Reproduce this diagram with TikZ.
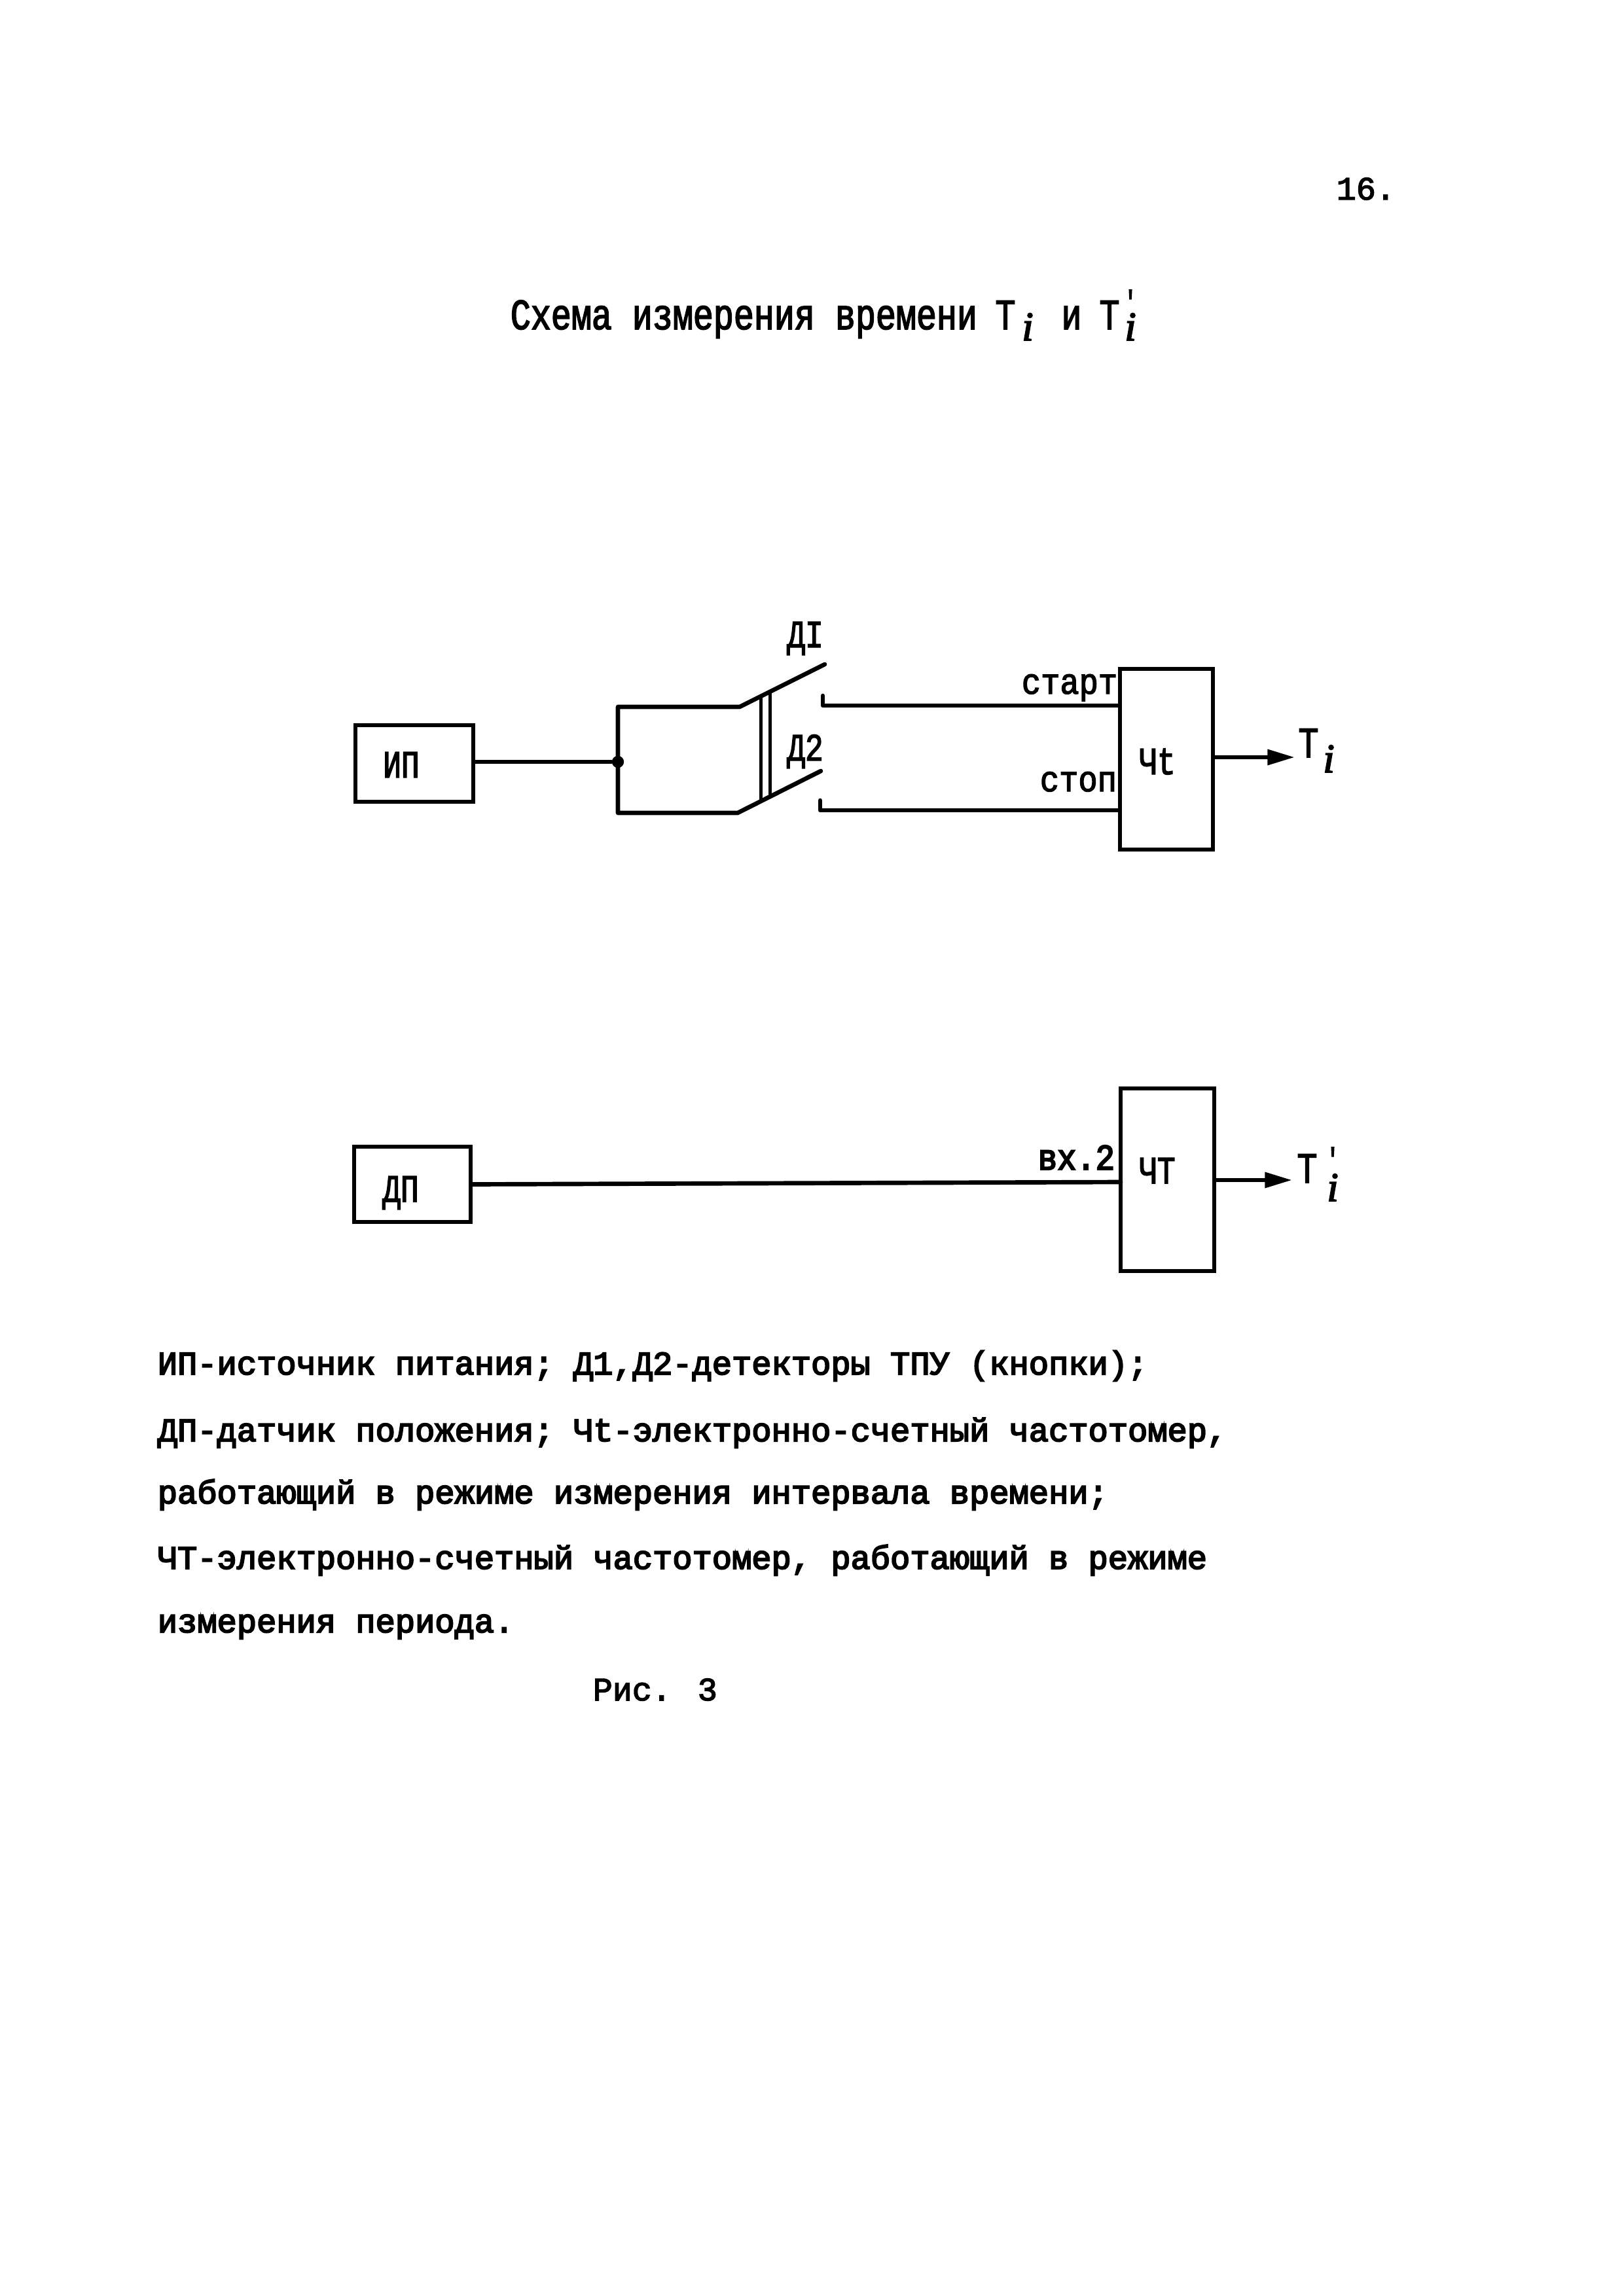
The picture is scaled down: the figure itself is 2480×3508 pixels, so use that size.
\documentclass[tikz,border=0pt]{standalone}
\usepackage{fontspec}
\usetikzlibrary{arrows.meta}
\setmainfont{Liberation Serif}
\newfontfamily\tfont[FakeStretch=0.78,FakeBold=2.5]{Liberation Mono}
\newfontfamily\lfont[FakeStretch=0.88,FakeBold=2.5]{Liberation Mono}
\newfontfamily\lbfont[FakeStretch=0.88,FakeBold=4]{Liberation Mono}
\newfontfamily\bfont[FakeBold=4]{Liberation Mono}
\newfontfamily\rfont[FakeBold=3]{Liberation Mono}
\newfontfamily\ifont[FakeBold=3]{Liberation Serif Italic}
\newcommand{\primedi}[1]{\makebox[0pt]{\raisebox{#1}{\tfont\fontsize{11pt}{12pt}\selectfont '}}\makebox[0pt]{i}}
\tikzset{
  blockbox/.style={draw=black,line width=1.3pt,fill=none,inner sep=0pt},
  wire/.style={draw=black,line width=1.6pt,line cap=round,line join=round},
  thinbar/.style={draw=black,line width=1.2pt},
  arrowwire/.style={wire,-{Triangle[length=10pt,width=5.5pt]}},
  jointdot/.style={circle,fill=black,inner sep=0pt,minimum size=4.4pt},
  txt/.style={inner sep=0pt,anchor=base west,text=black},
  ctxt/.style={inner sep=0pt,anchor=base,text=black},
  bigf/.style={font=\tfont\fontsize{15.9pt}{18pt}\selectfont},
  blockf/.style={font=\tfont\fontsize{14.2pt}{16pt}\selectfont},
  portf/.style={font=\lfont\fontsize{13.3pt}{16pt}\selectfont},
  portbf/.style={font=\lbfont\fontsize{13.3pt}{16pt}\selectfont},
  bodyf/.style={font=\bfont\fontsize{12.1pt}{14pt}\selectfont},
  plainf/.style={font=\rfont\fontsize{12pt}{14pt}\selectfont},
  subi/.style={font=\ifont\fontsize{15pt}{16pt}\selectfont},
}
\begin{document}
\begin{tikzpicture}[x=0.24pt,y=-0.24pt]
\useasboundingbox (0,0) rectangle (2480,3508);
\fill[white] (0,0) rectangle (2480,3508);

% page number and title
\node[txt,plainf] (pageno) at (2041,305) {16.};
\node[txt,bigf] (title) at (779,503) {Схема измерения времени};
\node[ctxt,bigf] (titleT) at (1536,503) {Т};
\node[ctxt,subi] (titlei) at (1570,520) {i};
\node[ctxt,bigf] (titleand) at (1637,503) {и};
\node[ctxt,bigf] (titleTT) at (1695,503) {Т};
\node[ctxt,subi] (titleii) at (1727,520) {\primedi{10.56pt}};

% upper scheme
\node[blockbox,minimum width=43.2pt,minimum height=28.08pt] (ip) at (633,1166.5) {};
\node[ctxt,blockf] (iptext) at (613,1188) {ИП};
\node[jointdot] (dot) at (944,1164) {};
\draw[wire] (dot -| ip.east) -- (dot);
\coordinate (d1end) at (1260,1015);
\coordinate (d2end) at (1254,1178);
\draw[wire] (d1end) -- (1130,1080) -- (944,1080) -- (944,1242) -- (1127,1242) -- (d2end);
\draw[thinbar] (1162,1062) -- (1162,1225);
\draw[thinbar] (1176,1056) -- (1176,1215);
\node[ctxt,blockf] (d1) at (1230,989) {ДI};
\node[ctxt,blockf] (d2) at (1230,1162) {Д2};

\node[blockbox,minimum width=34.08pt,minimum height=66.24pt] (cht) at (1782,1160) {};
\node[ctxt,blockf] (chttext) at (1768,1183) {Чt};
\coordinate (startcorner) at (1257,1078);
\coordinate (stopcorner) at (1253,1238);
\draw[wire] (1257,1063) -- (startcorner) -- (startcorner -| cht.west);
\draw[wire] (1253,1223) -- (stopcorner) -- (stopcorner -| cht.west);
\node[txt,portf] (start) at (1560,1060) {старт};
\node[txt,portf] (stop) at (1588,1209) {стоп};
\coordinate (tout) at (1978,1157);
\draw[arrowwire] (tout -| cht.east) -- (tout);
\node[ctxt,bigf] (tiT) at (1999,1157) {Т};
\node[ctxt,subi] (tii) at (2030,1180) {i};

% lower scheme
\node[blockbox,minimum width=42.72pt,minimum height=27.6pt] (dp) at (630,1809.5) {};
\node[ctxt,blockf] (dptext) at (612,1836) {ДП};
\node[blockbox,minimum width=34.32pt,minimum height=66.96pt] (cht2) at (1783.5,1802.5) {};
\node[ctxt,blockf] (cht2text) at (1768,1808) {ЧТ};
\coordinate (vxin) at (1712,1806);
\draw[wire] (dp.east) -- (vxin);
\node[txt,portbf] (vx) at (1585,1787) {вх.2};
\coordinate (tout2) at (1974,1803);
\draw[arrowwire] (tout2 -| cht2.east) -- (tout2);
\node[ctxt,bigf] (tjT) at (1997,1807) {Т};
\node[ctxt,subi] (tji) at (2036,1835) {\primedi{11.76pt}};

% legend
\node[txt,bodyf] (l1) at (240,2100) {ИП-источник питания; Д1,Д2-детекторы ТПУ (кнопки);};
\node[txt,bodyf] (l2) at (240,2202) {ДП-датчик положения; Чt-электронно-счетный частотомер,};
\node[txt,bodyf] (l3) at (240,2297) {работающий в режиме измерения интервала времени;};
\node[txt,bodyf] (l4) at (240,2397) {ЧТ-электронно-счетный частотомер, работающий в режиме};
\node[txt,bodyf] (l5) at (240,2494) {измерения периода.};
\node[txt,plainf] (fig) at (905,2598) {Рис. 3};
\end{tikzpicture}
\end{document}
